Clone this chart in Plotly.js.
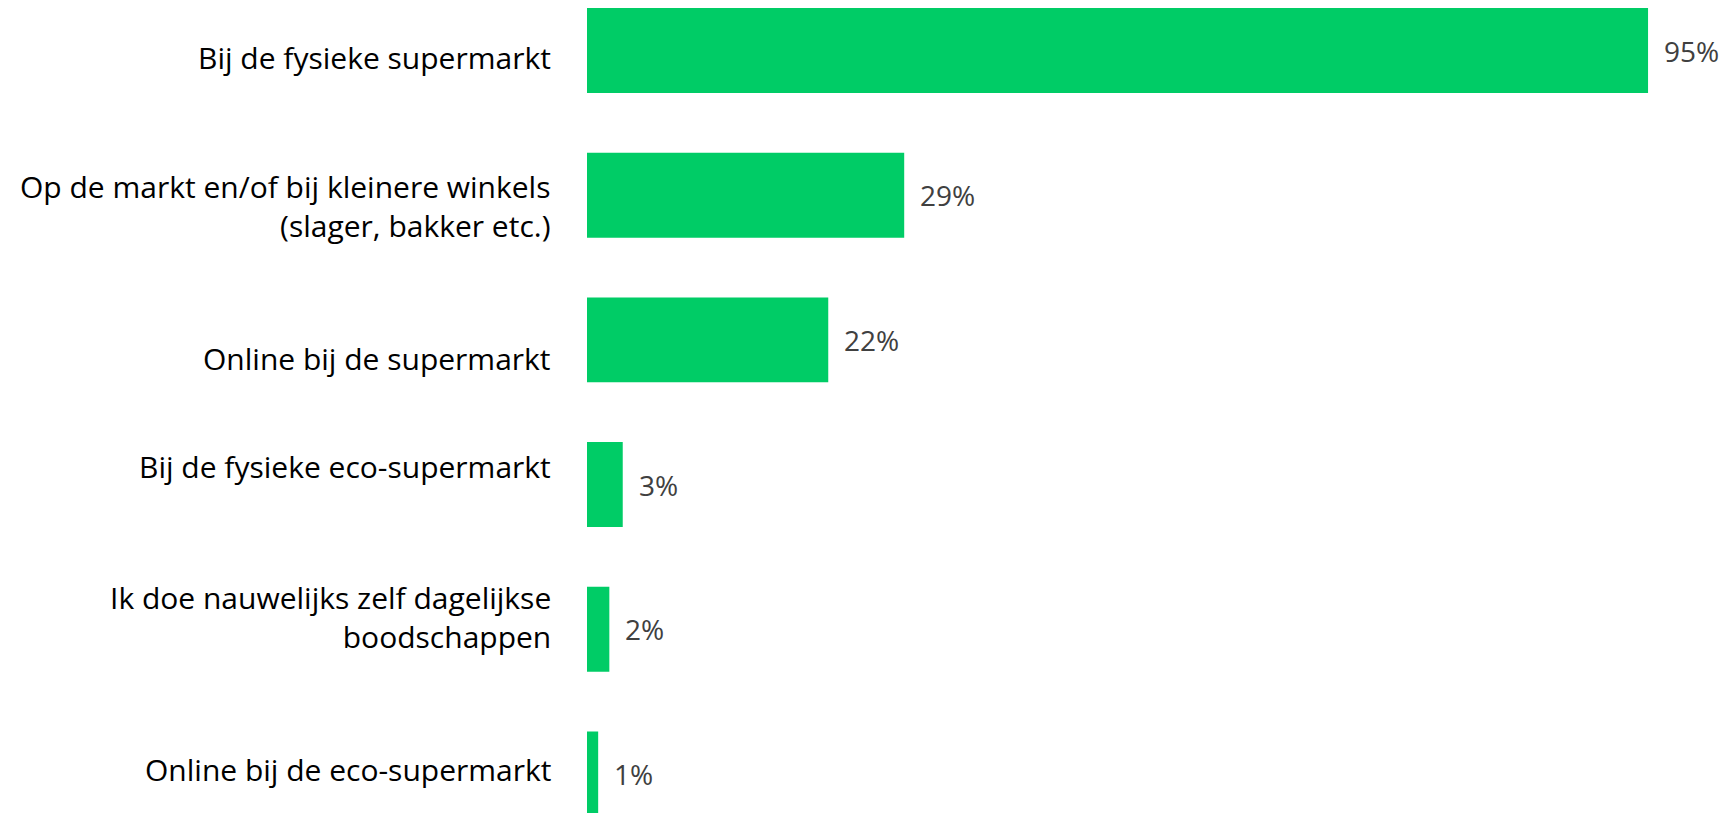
<!DOCTYPE html>
<html>
<head>
<meta charset="utf-8">
<script src="https://cdn.plot.ly/plotly-3.0.1.min.js"></script>
<style>html,body{margin:0;padding:0;background:#fff;}#chart{width:1724px;height:813px;}</style>
</head>
<body>
<div id="chart"></div>
<script>
// Data
const categories = [
  "Bij de fysieke supermarkt",
  "Op de markt en/of bij kleinere winkels<br>(slager, bakker etc.)",
  "Online bij de supermarkt",
  "Bij de fysieke eco-supermarkt",
  "Ik doe nauwelijks zelf dagelijkse<br>boodschappen",
  "Online bij de eco-supermarkt"
];
const values = [95, 28.4, 21.6, 3.2, 2.0, 1.0];
const valueLabels = ["95%", "29%", "22%", "3%", "2%", "1%"];

// Styling (label vertical nudges in px, as in the original slide)
const labelShift = [-6.5, -10.5, -19, 18.5, 12.5, 4.5];

const trace = {
  type: "bar",
  orientation: "h",
  x: values,
  y: categories,
  marker: {color: "#00CC66"},
  hoverinfo: "none"
};

const annotations = [];
categories.forEach((c, i) => {
  annotations.push({
    x: 0, y: c, xref: "x", yref: "y",
    text: c, showarrow: false,
    xanchor: "right", yanchor: "middle", align: "right",
    xshift: -34, yshift: labelShift[i],
    font: {family: "'Open Sans', sans-serif", size: 30, color: "#000000"}
  });
  annotations.push({
    x: values[i], y: c, xref: "x", yref: "y",
    text: valueLabels[i], showarrow: false,
    xanchor: "left", yanchor: "middle",
    xshift: 14,
    font: {family: "'Open Sans', sans-serif", size: 28, color: "#404040"}
  });
});

const layout = {
  width: 1724, height: 813,
  margin: {l: 587, r: 0, t: 0, b: 0, pad: 0},
  paper_bgcolor: "#ffffff", plot_bgcolor: "#ffffff",
  showlegend: false,
  bargap: 0.413,
  xaxis: {range: [0, 101.8], visible: false, showgrid: false, zeroline: false, fixedrange: true},
  yaxis: {type: "category", categoryorder: "array", categoryarray: categories,
          range: [5.27, -0.349], showticklabels: false, showgrid: false, zeroline: false,
          showline: false, ticks: "", fixedrange: true},
  annotations: annotations
};

Plotly.newPlot("chart", [trace], layout, {staticPlot: true, displayModeBar: false});
</script>
</body>
</html>
